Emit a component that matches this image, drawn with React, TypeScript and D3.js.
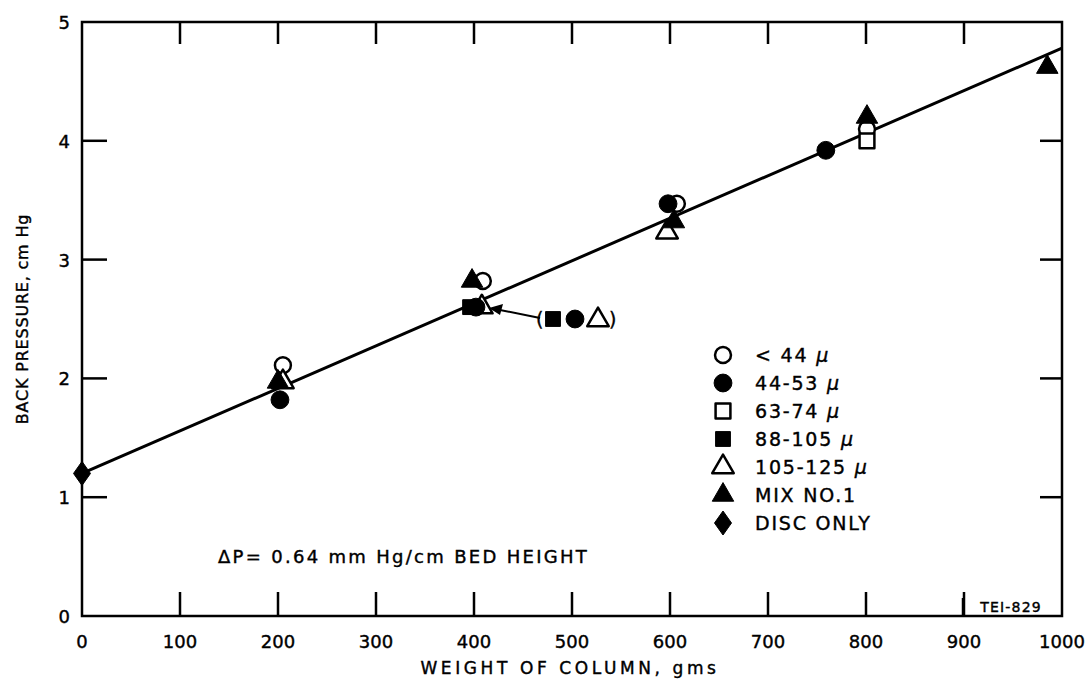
import React from "react";
import * as d3 from "d3";

// Series values (weight of column gms, back pressure cm Hg)
const under44 = [[205, 2.11], [409, 2.82], [607, 3.47], [801, 4.1]];
const s44to53 = [[202, 1.82], [402, 2.6], [598, 3.47], [759, 3.92]];
const s63to74 = [[801, 4.0]];
const s88to105 = [[396, 2.6]];
const s105to125 = [[205, 1.97], [408, 2.6], [597, 3.23]];
const mixNo1 = [[200, 1.97], [398, 2.82], [604, 3.32], [801, 4.2], [985, 4.62]];
const discOnly = [[0, 1.2]];

// Fitted line endpoints
const fitLine = [[0, 1.2], [1000, 4.78]];

const xTicks = [0, 100, 200, 300, 400, 500, 600, 700, 800, 900, 1000];
const yTicks = [0, 1, 2, 3, 4, 5];

const legendLabels = ["< 44 ", "44-53 ", "63-74 ", "88-105 ", "105-125 ", "MIX NO.1", "DISC ONLY"];
const legendKinds = ["openCircle", "circle", "openSquare", "square", "openTriangle", "triangle", "diamond"];

const width = 1087;
const height = 697;
const left = 82, right = 1062, top = 22, bottom = 616;

const x = d3.scaleLinear().domain([0, 1000]).range([left, right]);
const y = d3.scaleLinear().domain([0, 5]).range([bottom, top]);

const FONT = "'DejaVu Sans', sans-serif";

function symbolPath(kind: string) {
  if (kind === "openCircle") return d3.symbol(d3.symbolCircle, 200)()!;
  if (kind === "circle") return d3.symbol(d3.symbolCircle, 250)()!;
  if (kind.includes("quare")) return d3.symbol(d3.symbolSquare, 220)()!;
  if (kind.includes("riangle")) return d3.symbol(d3.symbolTriangle, 200)()!;
  return "M0,-12L8.5,0L0,12L-8.5,0Z";
}

function Marker({ kind, cx, cy }: { kind: string; cx: number; cy: number }) {
  const open = kind.startsWith("open");
  return (
    <path
      d={symbolPath(kind)}
      transform={`translate(${cx},${cy})`}
      fill={open ? "white" : "black"}
      stroke="black"
      strokeWidth={open ? 2.5 : 1}
      strokeLinejoin="round"
    />
  );
}

export default function App() {
  const line = d3.line<number[]>().x(d => x(d[0])).y(d => y(d[1]));
  const inner = xTicks.slice(1, -1);
  const innerY = yTicks.slice(1, -1);

  const openSeries: [string, number[][]][] = [
    ["openCircle", under44],
    ["openSquare", s63to74],
    ["openTriangle", s105to125],
  ];
  const filledSeries: [string, number[][]][] = [
    ["circle", s44to53],
    ["square", s88to105],
    ["triangle", mixNo1],
    ["diamond", discOnly],
  ];

  const txt = { fontFamily: FONT, stroke: "black", strokeWidth: 0.4 };

  return (
    <svg width={width} height={height} style={{ position: "absolute", left: 0, top: 0, background: "white" }}>
      <rect x={0} y={0} width={width} height={height} fill="white" />

      {/* frame */}
      <rect x={left} y={top} width={right - left} height={bottom - top} fill="none" stroke="black" strokeWidth={2.5} />

      {/* inward ticks */}
      {inner.map(t => (
        <g key={"xt" + t}>
          <line x1={x(t)} x2={x(t)} y1={bottom} y2={bottom - 24} stroke="black" strokeWidth={2.5} />
          <line x1={x(t)} x2={x(t)} y1={top} y2={top + 22} stroke="black" strokeWidth={2.5} />
        </g>
      ))}
      {innerY.map(t => (
        <g key={"yt" + t}>
          <line x1={left} x2={left + 25} y1={y(t)} y2={y(t)} stroke="black" strokeWidth={2.5} />
          <line x1={right} x2={right - 22} y1={y(t)} y2={y(t)} stroke="black" strokeWidth={2.5} />
        </g>
      ))}

      {/* tick labels */}
      {xTicks.map(t => (
        <text key={"xl" + t} x={x(t)} y={648} textAnchor="middle" fontSize={18} {...txt}>{t}</text>
      ))}
      {yTicks.map(t => (
        <text key={"yl" + t} x={70} y={y(t) + 7} textAnchor="end" fontSize={18} {...txt}>{t}</text>
      ))}

      {/* axis titles */}
      <text x={570} y={674} textAnchor="middle" fontSize={17} letterSpacing={3.6} {...txt}>WEIGHT OF COLUMN, gms</text>
      <text transform={`translate(28,${(top + bottom) / 2}) rotate(-90)`} textAnchor="middle" fontSize={16} letterSpacing={0.8} {...txt}>BACK PRESSURE, cm Hg</text>

      {/* fit line */}
      <path d={line(fitLine)!} stroke="black" strokeWidth={3} fill="none" />

      {/* data */}
      {openSeries.map(([k, pts]) => pts.map((p, i) => <Marker key={k + i} kind={k} cx={x(p[0])} cy={y(p[1])} />))}
      {filledSeries.map(([k, pts]) => pts.map((p, i) => <Marker key={k + i} kind={k} cx={x(p[0])} cy={y(p[1])} />))}

      {/* annotation for the 400 g cluster */}
      <line x1={540} y1={318} x2={500} y2={310} stroke="black" strokeWidth={2} />
      <path d="M489,308 L503,304 L500,315 Z" fill="black" />
      <text x={536} y={326} fontSize={19} {...txt}>(</text>
      <Marker kind="square" cx={553} cy={319} />
      <Marker kind="circle" cx={575} cy={319} />
      <Marker kind="openTriangle" cx={598} cy={320} />
      <text x={609} y={326} fontSize={19} {...txt}>)</text>

      {/* legend */}
      {legendLabels.map((lab, i) => {
        const ly = 355 + i * 28;
        return (
          <g key={"lg" + i}>
            <Marker kind={legendKinds[i]} cx={723} cy={ly} />
            <text x={755} y={ly + 7} fontSize={19} letterSpacing={1.8} {...txt}>
              {lab}
              {i < 5 ? <tspan fontStyle="italic">μ</tspan> : null}
            </text>
          </g>
        );
      })}

      <text x={218} y={563} fontSize={18} letterSpacing={2.3} {...txt}>ΔP= 0.64 mm Hg/cm BED HEIGHT</text>

      {/* figure id */}
      <line x1={963} x2={963} y1={598} y2={bottom} stroke="black" strokeWidth={2.5} />
      <text x={1011} y={612} textAnchor="middle" fontSize={14} letterSpacing={1.2} {...txt}>TEI-829</text>
    </svg>
  );
}
